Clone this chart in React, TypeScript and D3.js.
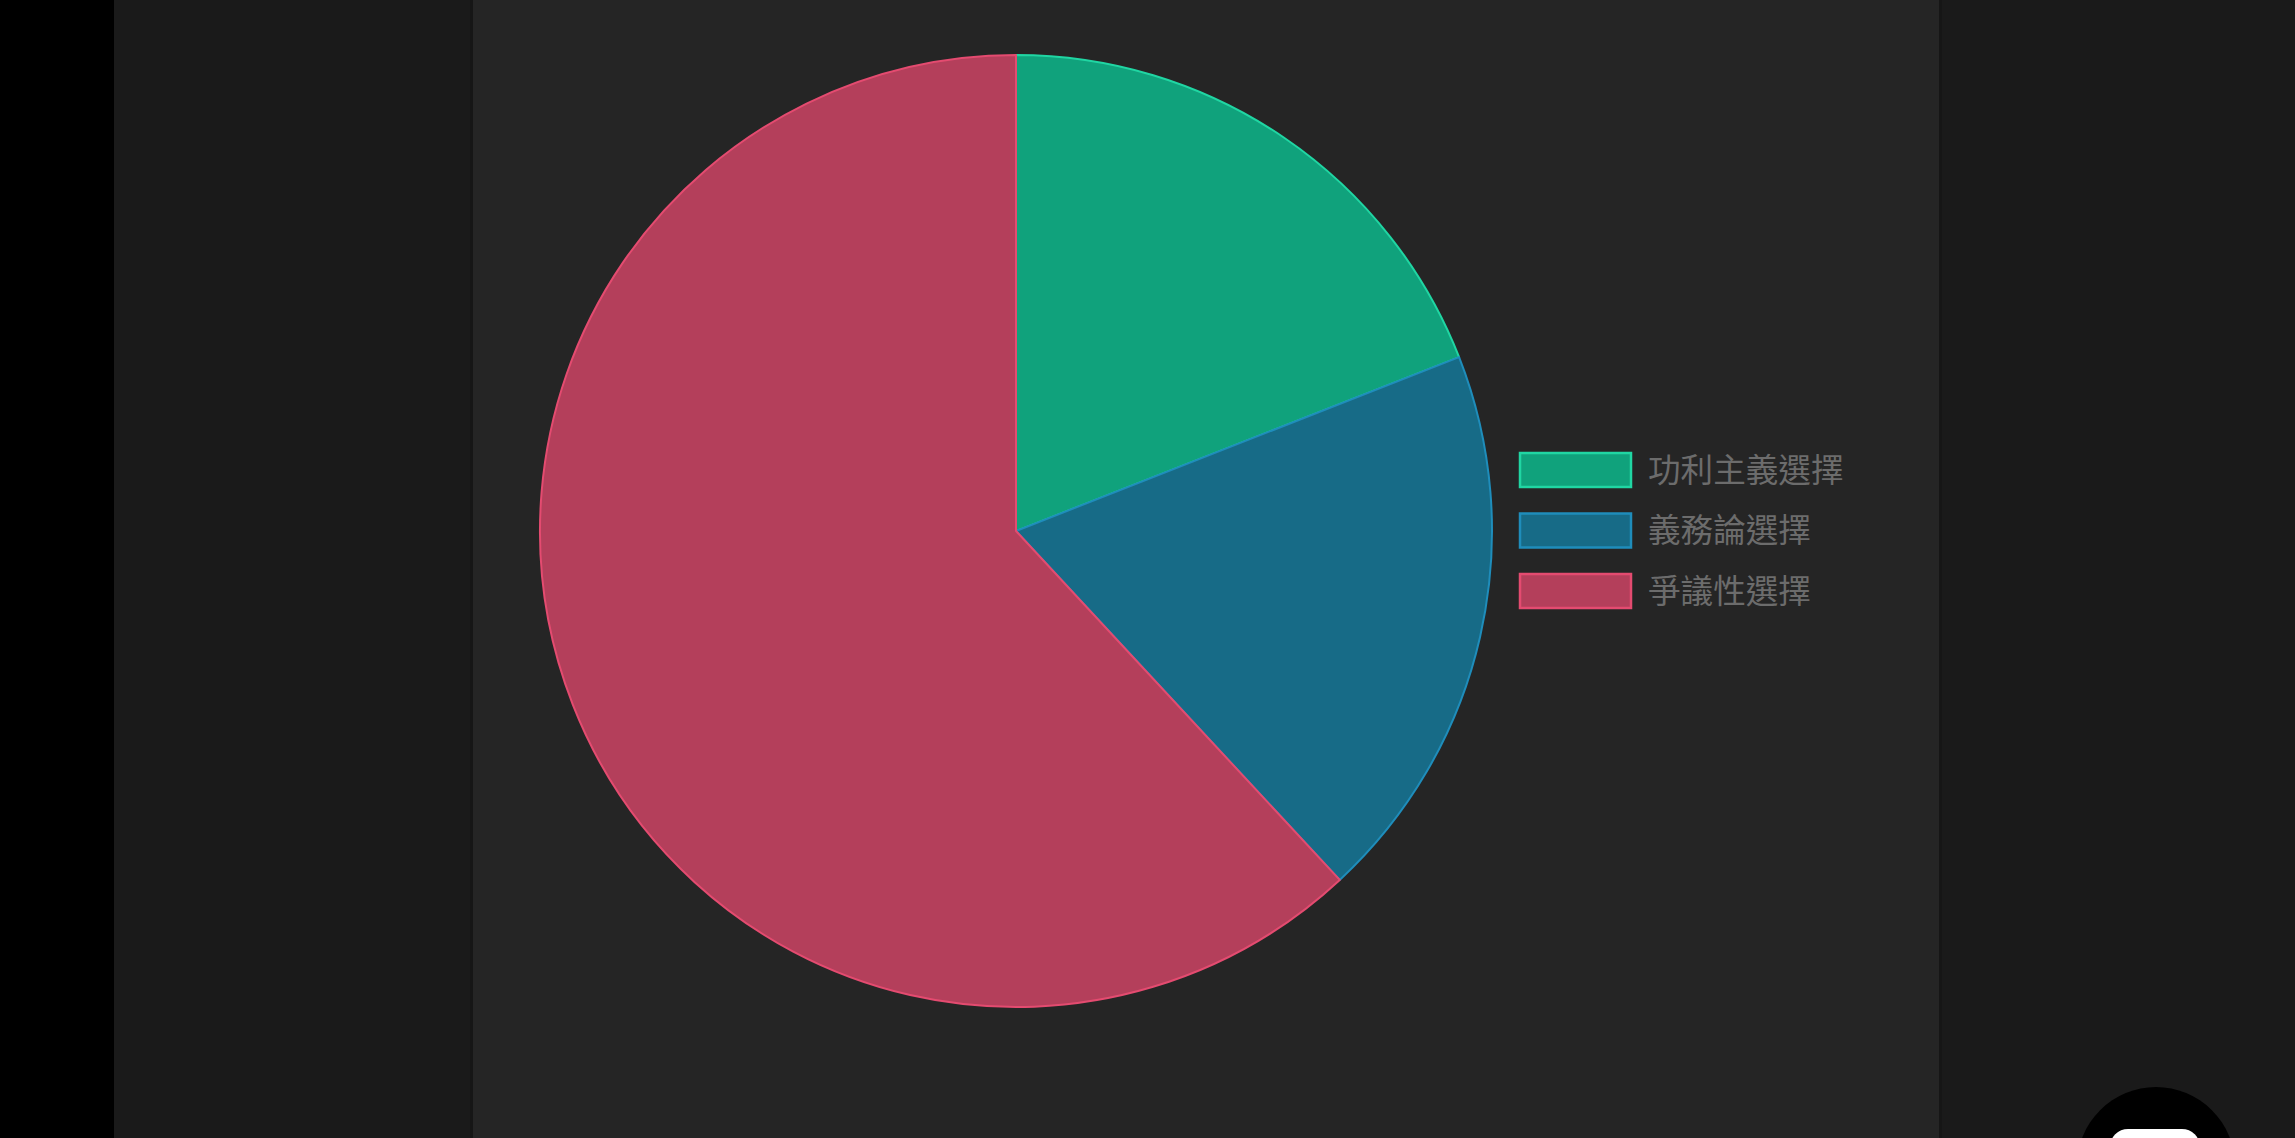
import React, { useRef, useEffect } from "react";
import * as d3 from "d3";

const categories = ["功利主義選擇", "義務論選擇", "爭議性選擇"];
const counts = [4, 4, 13];
const fillColors = ["#10a27c", "#176b87", "#b43f5b"];
const borderColors = ["#20d6a3", "#1f8dbb", "#e44b70"];

const App: React.FC = () => {
  const chartRef = useRef<SVGSVGElement>(null);

  useEffect(() => {
    if (!chartRef.current) return;
    const svg = d3.select(chartRef.current);
    svg.selectAll("*").remove();

    const W = 2295;
    const H = 1138;

    // page background panels
    svg.append("rect").attr("width", W).attr("height", H).attr("fill", "#000");
    svg.append("rect").attr("x", 114).attr("width", W - 114).attr("height", H).attr("fill", "#1a1a1a");
    svg.append("rect").attr("x", 473).attr("width", 1466).attr("height", H).attr("fill", "#252525");
    svg.append("rect").attr("x", 470).attr("width", 3).attr("height", H).attr("fill", "#161616");
    svg.append("rect").attr("x", 1939).attr("width", 3).attr("height", H).attr("fill", "#161616");

    // pie
    const cx = 1016;
    const cy = 531;
    const radius = 476;

    const pie = d3.pie<number>().sort(null).value((d) => d);
    const arc = d3.arc<d3.PieArcDatum<number>>().innerRadius(0).outerRadius(radius);

    const g = svg.append("g").attr("transform", `translate(${cx},${cy})`);
    g.selectAll(".slice")
      .data(pie(counts))
      .enter()
      .append("path")
      .attr("class", "slice")
      .attr("d", arc)
      .attr("fill", (_, i) => fillColors[i])
      .attr("stroke", (_, i) => borderColors[i])
      .attr("stroke-width", 2)
      .attr("stroke-linejoin", "round");

    // legend
    const legend = svg.append("g").attr("transform", "translate(1520,453)");
    const rowH = 60.5;
    const items = legend
      .selectAll(".item")
      .data(categories)
      .enter()
      .append("g")
      .attr("class", "item")
      .attr("transform", (_, i) => `translate(0,${i * rowH})`);

    items
      .append("rect")
      .attr("x", 0)
      .attr("y", 0)
      .attr("width", 111)
      .attr("height", 34)
      .attr("fill", (_, i) => fillColors[i])
      .attr("stroke", (_, i) => borderColors[i])
      .attr("stroke-width", 2.5);

    items
      .append("text")
      .attr("x", 128)
      .attr("y", 17)
      .attr("dy", "0.36em")
      .attr("fill", "#6c6c6c")
      .attr("font-family", "'Noto Sans CJK TC', 'Noto Sans', sans-serif")
      .attr("font-size", 32.6)
      .text((d) => d);

    // floating button in bottom right corner
    svg.append("circle").attr("cx", 2156).attr("cy", 1166).attr("r", 79).attr("fill", "#000");
    svg
      .append("rect")
      .attr("x", 2110)
      .attr("y", 1129)
      .attr("width", 90)
      .attr("height", 60)
      .attr("rx", 18)
      .attr("fill", "#fff");
  }, []);

  return (
    <svg
      ref={chartRef}
      width={2295}
      height={1138}
      style={{ position: "fixed", top: 0, left: 0, display: "block" }}
    ></svg>
  );
};

export default App;
